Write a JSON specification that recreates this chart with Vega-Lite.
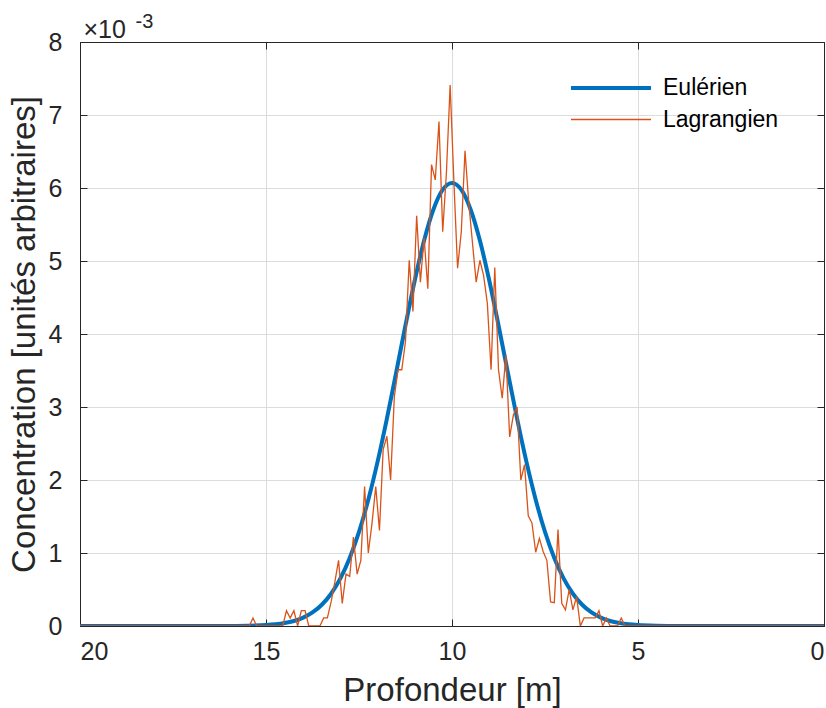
{
  "$schema": "https://vega.github.io/schema/vega-lite/v6.json",
  "width": 744,
  "height": 584,
  "autosize": {"type": "none"},
  "padding": {"left": 80, "top": 42, "right": 2, "bottom": 82},
  "background": "white",
  "config": {
    "view": {"stroke": "#262626", "strokeWidth": 1},
    "font": "Liberation Sans",
    "axis": {
      "labelFont": "Liberation Sans", "labelFontSize": 25, "labelColor": "#262626",
      "titleFont": "Liberation Sans", "titleFontSize": 33, "titleFontWeight": "normal", "titleColor": "#262626",
      "domainColor": "#262626", "tickColor": "#262626", "tickSize": -7,
      "gridColor": "#dcdcdc", "gridWidth": 1
    }
  },
  "datasets": {
    "euler": [
      {"depth": 0, "conc": 0}, {"depth": 3.5, "conc": 0}, {"depth": 4.0, "conc": 0.0008}, {"depth": 4.5, "conc": 0.0034},
      {"depth": 5.0, "conc": 0.0123}, {"depth": 5.25, "conc": 0.0226}, {"depth": 5.5, "conc": 0.04}, {"depth": 5.75, "conc": 0.0689},
      {"depth": 6.0, "conc": 0.115}, {"depth": 6.25, "conc": 0.186}, {"depth": 6.5, "conc": 0.291}, {"depth": 6.75, "conc": 0.442},
      {"depth": 7.0, "conc": 0.652}, {"depth": 7.25, "conc": 0.931}, {"depth": 7.5, "conc": 1.288}, {"depth": 7.75, "conc": 1.73},
      {"depth": 8.0, "conc": 2.251}, {"depth": 8.25, "conc": 2.841}, {"depth": 8.5, "conc": 3.474}, {"depth": 8.75, "conc": 4.12},
      {"depth": 9.0, "conc": 4.737}, {"depth": 9.25, "conc": 5.28}, {"depth": 9.5, "conc": 5.705}, {"depth": 9.75, "conc": 5.977},
      {"depth": 10.0, "conc": 6.07},
      {"depth": 10.25, "conc": 5.977}, {"depth": 10.5, "conc": 5.705}, {"depth": 10.75, "conc": 5.28}, {"depth": 11.0, "conc": 4.737},
      {"depth": 11.25, "conc": 4.12}, {"depth": 11.5, "conc": 3.474}, {"depth": 11.75, "conc": 2.841}, {"depth": 12.0, "conc": 2.251},
      {"depth": 12.25, "conc": 1.73}, {"depth": 12.5, "conc": 1.288}, {"depth": 12.75, "conc": 0.931}, {"depth": 13.0, "conc": 0.652},
      {"depth": 13.25, "conc": 0.442}, {"depth": 13.5, "conc": 0.291}, {"depth": 13.75, "conc": 0.186}, {"depth": 14.0, "conc": 0.115},
      {"depth": 14.25, "conc": 0.0689}, {"depth": 14.5, "conc": 0.04}, {"depth": 14.75, "conc": 0.0226}, {"depth": 15.0, "conc": 0.0123},
      {"depth": 15.5, "conc": 0.0034}, {"depth": 16.0, "conc": 0.0008}, {"depth": 16.5, "conc": 0}, {"depth": 20, "conc": 0}
    ],
    "lagrange": [
      {"depth": 0, "conc": 0}, {"depth": 5.25, "conc": 0}, {"depth": 5.35, "conc": 0}, {"depth": 5.45, "conc": 0.11},
      {"depth": 5.55, "conc": 0}, {"depth": 5.65, "conc": 0}, {"depth": 5.75, "conc": 0}, {"depth": 5.85, "conc": 0.11},
      {"depth": 5.95, "conc": 0}, {"depth": 6.05, "conc": 0.21}, {"depth": 6.15, "conc": 0.11}, {"depth": 6.25, "conc": 0.11},
      {"depth": 6.35, "conc": 0.11}, {"depth": 6.45, "conc": 0.11}, {"depth": 6.55, "conc": 0}, {"depth": 6.65, "conc": 0.4},
      {"depth": 6.75, "conc": 0.22}, {"depth": 6.85, "conc": 0.5}, {"depth": 6.95, "conc": 0.22}, {"depth": 7.05, "conc": 0.31},
      {"depth": 7.15, "conc": 1.32}, {"depth": 7.25, "conc": 0.32}, {"depth": 7.35, "conc": 0.33}, {"depth": 7.45, "conc": 0.9},
      {"depth": 7.55, "conc": 1.02}, {"depth": 7.65, "conc": 1.2}, {"depth": 7.75, "conc": 1.01}, {"depth": 7.85, "conc": 1.41},
      {"depth": 7.95, "conc": 1.51}, {"depth": 8.05, "conc": 2.21}, {"depth": 8.15, "conc": 2.0}, {"depth": 8.25, "conc": 3.0},
      {"depth": 8.35, "conc": 2.89}, {"depth": 8.45, "conc": 2.59}, {"depth": 8.55, "conc": 3.71}, {"depth": 8.65, "conc": 3.12},
      {"depth": 8.75, "conc": 3.51}, {"depth": 8.85, "conc": 4.91}, {"depth": 8.95, "conc": 3.51}, {"depth": 9.05, "conc": 4.42},
      {"depth": 9.15, "conc": 4.8}, {"depth": 9.25, "conc": 5.01}, {"depth": 9.35, "conc": 4.71}, {"depth": 9.45, "conc": 5.25},
      {"depth": 9.55, "conc": 5.8}, {"depth": 9.65, "conc": 6.51}, {"depth": 9.75, "conc": 5.4}, {"depth": 9.85, "conc": 4.9},
      {"depth": 9.95, "conc": 6.1}, {"depth": 10.05, "conc": 7.41}, {"depth": 10.15, "conc": 6.21}, {"depth": 10.25, "conc": 5.4},
      {"depth": 10.35, "conc": 6.91}, {"depth": 10.45, "conc": 6.11}, {"depth": 10.55, "conc": 6.32}, {"depth": 10.65, "conc": 4.62},
      {"depth": 10.75, "conc": 5.32}, {"depth": 10.85, "conc": 4.71}, {"depth": 10.95, "conc": 5.62}, {"depth": 11.05, "conc": 4.31},
      {"depth": 11.15, "conc": 5.01}, {"depth": 11.25, "conc": 3.9}, {"depth": 11.35, "conc": 3.51}, {"depth": 11.45, "conc": 3.51},
      {"depth": 11.55, "conc": 3.14}, {"depth": 11.65, "conc": 2.0}, {"depth": 11.75, "conc": 2.6}, {"depth": 11.85, "conc": 2.42},
      {"depth": 11.95, "conc": 1.31}, {"depth": 12.05, "conc": 1.91}, {"depth": 12.15, "conc": 1.41}, {"depth": 12.25, "conc": 1.0},
      {"depth": 12.35, "conc": 1.91}, {"depth": 12.45, "conc": 0.9}, {"depth": 12.55, "conc": 0.71}, {"depth": 12.65, "conc": 1.22},
      {"depth": 12.75, "conc": 0.68}, {"depth": 12.85, "conc": 0.71}, {"depth": 12.95, "conc": 0.31}, {"depth": 13.05, "conc": 0.9},
      {"depth": 13.15, "conc": 0.6}, {"depth": 13.25, "conc": 0.33}, {"depth": 13.35, "conc": 0.11}, {"depth": 13.45, "conc": 0.11},
      {"depth": 13.55, "conc": 0}, {"depth": 13.65, "conc": 0}, {"depth": 13.75, "conc": 0}, {"depth": 13.85, "conc": 0},
      {"depth": 13.95, "conc": 0.21}, {"depth": 14.05, "conc": 0.21}, {"depth": 14.15, "conc": 0}, {"depth": 14.25, "conc": 0.21},
      {"depth": 14.35, "conc": 0.11}, {"depth": 14.45, "conc": 0.21}, {"depth": 14.55, "conc": 0}, {"depth": 14.65, "conc": 0},
      {"depth": 15.25, "conc": 0}, {"depth": 15.35, "conc": 0.11}, {"depth": 15.45, "conc": 0}, {"depth": 20, "conc": 0}
    ]
  },
  "encoding": {
    "color": {"field": "series", "type": "nominal",
      "scale": {"domain": ["Eulérien", "Lagrangien"], "range": ["#0072BD", "#D95319"]},
      "legend": {"title": null, "orient": "none", "legendX": 549, "legendY": 34, "symbolType": "M-7,0H1", "symbolSize": 400,
        "labelFontSize": 23, "labelFont": "Liberation Sans", "labelColor": "#000000", "rowPadding": 8, "labelOffset": 10}},
    "strokeWidth": {"field": "series", "type": "nominal",
      "scale": {"domain": ["Eulérien", "Lagrangien"], "range": [4, 1.3]},
      "legend": {"title": null, "orient": "none", "legendX": 549, "legendY": 34, "symbolType": "M-7,0H1", "symbolSize": 400,
        "labelFontSize": 23, "labelFont": "Liberation Sans", "labelColor": "#000000", "rowPadding": 8, "labelOffset": 10}}
  },
  "resolve": {"axis": {"x": "independent", "y": "independent"}},
  "layer": [
    {"data": {"name": "euler"}, "transform": [{"calculate": "'Eulérien'", "as": "series"}],
     "mark": {"type": "line", "interpolate": "monotone", "clip": true},
     "encoding": {
       "x": {"field": "depth", "type": "quantitative",
         "scale": {"domain": [0, 20], "reverse": true, "nice": false, "zero": false},
         "axis": {"orient": "bottom", "values": [0, 5, 10, 15, 20], "title": "Profondeur [m]", "labelPadding": 20, "titlePadding": 10, "grid": true}},
       "y": {"field": "conc", "type": "quantitative",
         "scale": {"domain": [0, 8], "nice": false},
         "axis": {"orient": "left", "values": [0, 1, 2, 3, 4, 5, 6, 7, 8], "title": "Concentration [unités arbitraires]", "labelPadding": 25, "titlePadding": 7, "grid": true}}
     }},
    {"data": {"name": "lagrange"}, "transform": [{"calculate": "'Lagrangien'", "as": "series"}],
     "mark": {"type": "line", "clip": true},
     "encoding": {
       "x": {"field": "depth", "type": "quantitative",
         "scale": {"domain": [0, 20], "reverse": true, "nice": false, "zero": false},
         "axis": {"orient": "top", "values": [0, 5, 10, 15, 20], "labels": false, "grid": false,
           "title": "×10", "titleX": 3, "titleY": -5, "titleAngle": 0, "titleAlign": "left", "titleAnchor": "start", "titleBaseline": "alphabetic", "titleFontSize": 25}},
       "y": {"field": "conc", "type": "quantitative",
         "scale": {"domain": [0, 8], "nice": false},
         "axis": {"orient": "right", "values": [0, 1, 2, 3, 4, 5, 6, 7, 8], "labels": false, "grid": false,
           "title": "-3", "titleX": -689, "titleY": -15, "titleAngle": 0, "titleAlign": "left", "titleAnchor": "start", "titleBaseline": "alphabetic", "titleFontSize": 20}}
     }}
  ]
}
